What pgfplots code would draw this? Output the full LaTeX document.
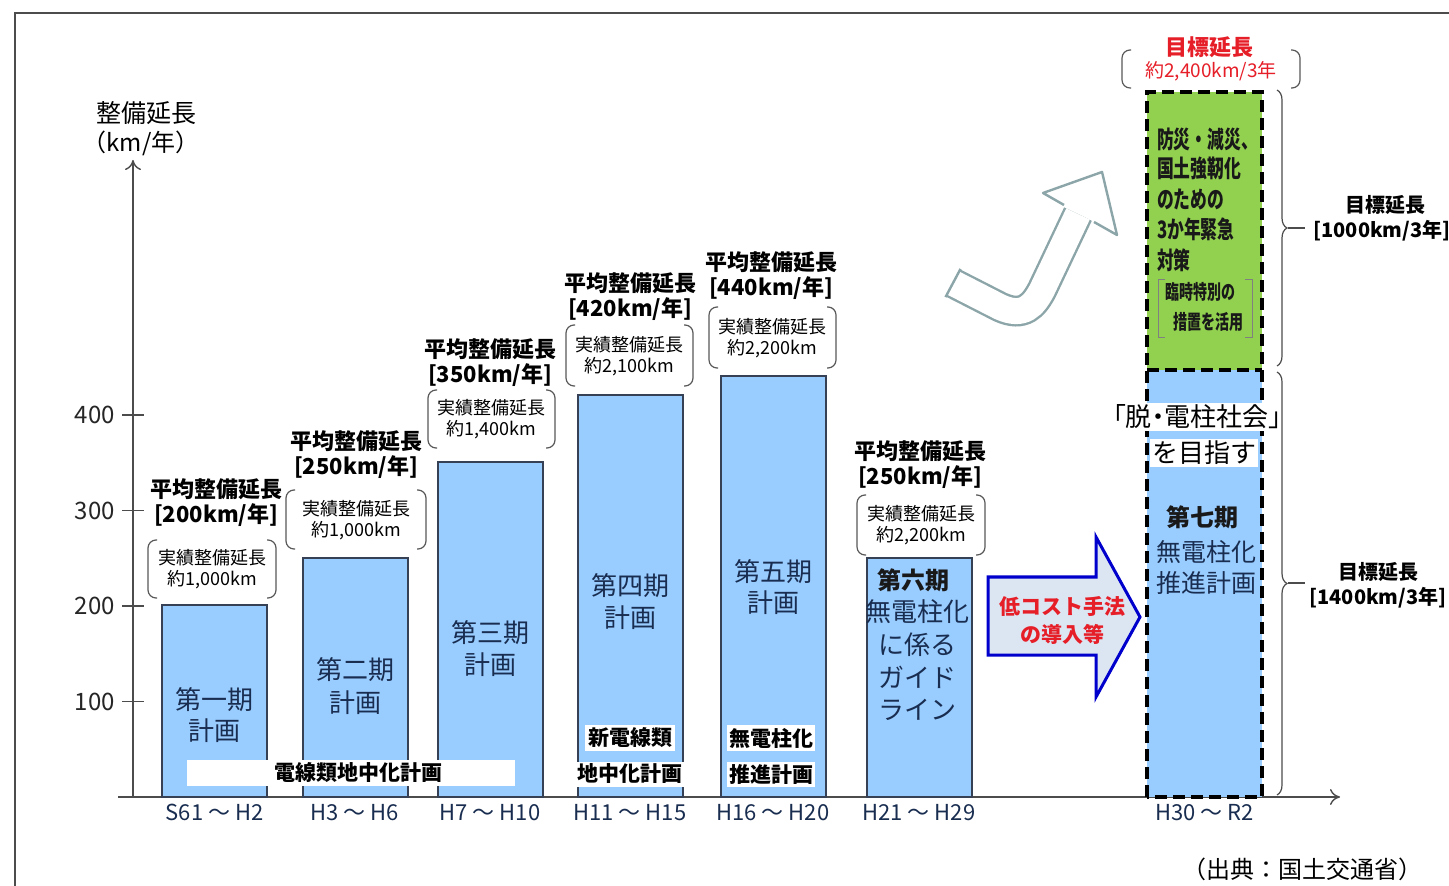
\documentclass[border=0pt]{standalone}
\usepackage{fontspec}
\setmainfont{Noto Sans CJK JP}
\newfontfamily\condfont{Noto Sans CJK JP}[FakeStretch=0.7]
\newfontfamily\paltfont{Noto Sans CJK JP}[RawFeature=+palt]
\usepackage{pgfplots}
\pgfplotsset{compat=1.18}
\usetikzlibrary{decorations.pathreplacing,arrows.meta}
\definecolor{barblue}{RGB}{153,204,255}
\definecolor{bardraw}{RGB}{55,65,85}
\definecolor{navy}{RGB}{25,45,80}
\definecolor{grn}{RGB}{146,208,80}
\definecolor{redt}{RGB}{230,30,40}
\definecolor{arrblue}{RGB}{0,0,205}
\definecolor{arrfill}{RGB}{220,230,242}
\definecolor{garrow}{RGB}{140,165,168}
\newcommand{\fs}[1]{\fontsize{#1}{#1}\selectfont}
\newcommand{\ann}[8]{%
  \node[font=\fs{11}\bfseries] at (#1,#2) {平均整備延長};
  \node[font=\fs{11}\bfseries] at (#1,#2+26) {[#3km/年]};
  \draw[black!65, line width=0.6pt, rounded corners=4pt] (#4+9,#6) -- (#4,#6) -- (#4,#7) -- (#4+9,#7);
  \draw[black!65, line width=0.6pt, rounded corners=4pt] (#5-9,#6) -- (#5,#6) -- (#5,#7) -- (#5-9,#7);
  \node[font=\fs{9}] at ({(#4+#5)/2},{(#6+#7)/2-11}) {実績整備延長};
  \node[font=\fs{9}] at ({(#4+#5)/2},{(#6+#7)/2+11}) {約#8km};
}
\begin{document}
\begin{tikzpicture}[x=0.5pt,y=-0.5pt]
\useasboundingbox (0,0) rectangle (1449,886);
\fill[white] (0,0) rectangle (1449,886);
\draw[black!70, line width=0.6pt] (15,886) -- (15,13) -- (1449,13);
\begin{axis}[
  at={(66.5pt,-398.5pt)}, anchor=south west,
  scale only axis, width=603.5pt, height=318.5pt,
  xmin=133, xmax=1340, ymin=0, ymax=667,
  axis lines=left,
  axis line style={line width=0.7pt, black!70, -{To[length=5pt,width=8pt]}},
  clip=false,
  ytick={100,200,300,400},
  xtick={214.5,355,490,630,773,919,1204.5},
  xticklabels={S61 ～ H2, H3 ～ H6, H7 ～ H10, H11 ～ H15, H16 ～ H20, H21 ～ H29, H30 ～ R2},
  tick align=center, major tick length=11pt,
  major x tick style={draw=none},
  major y tick style={black!70, line width=0.7pt},
  /pgf/number format/assume math mode=true,
  yticklabel style={font=\fs{12}, text=black!85},
  xticklabel style={font=\fs{11}, text=navy, yshift=5.5pt},
]
\addplot[ybar, bar width=105, bar shift=0pt, fill=barblue, draw=bardraw, line width=1pt]
  coordinates {(214.5,201) (355,250) (490,351) (630,421) (773,441) (919,250)};
\addplot[ybar, bar width=115, bar shift=0pt, fill=barblue, draw=none]
  coordinates {(1204.5,447)};
\addplot[fill=grn, draw=none] coordinates {(1147,447) (1262,447) (1262,738) (1147,738)} -- cycle;
\addplot[draw=black, line width=2pt, dash pattern=on 6pt off 3pt]
  coordinates {(1147,0) (1147,738) (1262,738) (1262,0) (1147,0)};
\addplot[draw=black, line width=2pt, dash pattern=on 6pt off 3pt]
  coordinates {(1147,447) (1262,447)};
\end{axis}
\draw[black!70, line width=0.7pt] (118,797) -- (133,797);
% axis label
\node[font=\fs{12.5}] at (146,113) {整備延長};
\node[font=\fs{12}] at (141,143) {（km/年）};
% bar texts
\begin{scope}[every node/.style={font=\fs{13}, text=navy}]
\node at (214,700) {第一期}; \node at (214,731) {計画};
\node at (355,670) {第二期}; \node at (355,703) {計画};
\node at (490,633) {第三期}; \node at (490,665) {計画};
\node at (630,586) {第四期}; \node at (630,618) {計画};
\node at (773,572) {第五期}; \node at (773,603) {計画};
\node at (917,612) {無電柱化}; \node at (917,645) {に係る};
\node at (917,677) {ガイド}; \node at (917,710) {ライン};
\node[font=\fs{12.5}] at (1206,552) {無電柱化}; \node[font=\fs{12.5}] at (1206,583) {推進計画};
\end{scope}
\node[font=\fs{12}\bfseries, text=black!90] at (913,580) {第六期};
\node[font=\fs{12}\bfseries, text=black!90] at (1202,517) {第七期};
% white labels
\fill[white] (187,760) rectangle (515,786);
\node[font=\fs{10.5}\bfseries] at (358,773) {電線類地中化計画};
\fill[white] (585,725) rectangle (675,751);
\node[font=\fs{10.5}\bfseries] at (630,738) {新電線類};
\fill[white] (576,762) rectangle (684,787);
\node[font=\fs{10.5}\bfseries] at (630,774) {地中化計画};
\fill[white] (727,725) rectangle (815,751);
\node[font=\fs{10.5}\bfseries] at (771,738) {無電柱化};
\fill[white] (727,762) rectangle (815,787);
\node[font=\fs{10.5}\bfseries] at (771,774) {推進計画};
% annotations
\ann{216}{489}{200}{148}{276}{540}{598}{1,000}
\ann{356}{441}{250}{286}{426}{490}{549}{1,000}
\ann{490}{349}{350}{428}{555}{390}{448}{1,400}
\ann{630}{283}{420}{566}{693}{325}{386}{2,100}
\ann{771}{262}{440}{709}{836}{307}{368}{2,200}
\ann{920}{451}{250}{857}{985}{495}{555}{2,200}
% top red
\node[font=\fs{11}\bfseries, text=redt] at (1209,47) {目標延長};
\node[font=\fs{9.5}, text=redt] at (1211,71) {約2,400km/3年};
\draw[black!65, line width=0.6pt, rounded corners=4pt] (1131,50) -- (1122,50) -- (1122,88) -- (1131,88);
\draw[black!65, line width=0.6pt, rounded corners=4pt] (1291,50) -- (1300,50) -- (1300,88) -- (1291,88);
% green text
\begin{scope}[every node/.style={anchor=west, font=\condfont\fs{12}\bfseries, text=black!90}]
\node at (1150,139) {防災・減災、};
\node at (1150,168) {国土強靭化};
\node at (1150,199) {のための};
\node at (1150,229) {3か年緊急};
\node at (1150,260) {対策};
\node[font=\condfont\fs{10}\bfseries] at (1158,292) {臨時特別の};
\node[font=\condfont\fs{10}\bfseries] at (1166,322) {措置を活用};
\end{scope}
\draw[black!50, line width=0.5pt] (1165,280) -- (1158,280) -- (1158,338) -- (1165,338);
\draw[black!50, line width=0.5pt] (1245,280) -- (1252,280) -- (1252,338) -- (1245,338);
% datsu
\node[fill=white, inner sep=1pt, font=\paltfont\fs{13}] at (1197,417) {「脱・電柱社会」};
\node[fill=white, inner sep=1pt, font=\fs{13}] at (1204,453) {を目指す};
% braces
\draw[decorate, decoration={brace, amplitude=5pt}, black!70, line width=0.6pt] (1277,90) -- (1277,366);
\draw[black!70, line width=0.6pt] (1288,228) -- (1305,228);
\draw[decorate, decoration={brace, amplitude=5pt}, black!70, line width=0.6pt] (1277,372) -- (1277,795);
\draw[black!70, line width=0.6pt] (1288,583) -- (1305,583);
\node[font=\fs{10}\bfseries] at (1385,205) {目標延長};
\node[font=\fs{10}\bfseries] at (1382,231) {[1000km/3年]};
\node[font=\fs{10}\bfseries] at (1378,572) {目標延長};
\node[font=\fs{10}\bfseries] at (1378,598) {[1400km/3年]};
% blue arrow
\draw[arrblue, line width=1.5pt, fill=arrfill] (988,577) -- (1096,577) -- (1096,537) -- (1140,617) -- (1096,697) -- (1096,655) -- (988,655) -- cycle;
\node[font=\fs{10.5}\bfseries, text=redt] at (1062,606) {低コスト手法};
\node[font=\fs{10.5}\bfseries, text=redt] at (1062,634) {の導入等};
% curved arrow
\draw[garrow, line width=1.2pt, double=white, double distance=13pt] (953,283) -- (1000,307) .. controls (1024,318) and (1034,305) .. (1042,290) -- (1078,214);
\draw[garrow, line width=1.2pt] (960.5,268.9) -- (945.5,297.1);
\fill[white] (1043,193) -- (1102,172) -- (1117,235) -- cycle;
\draw[garrow, line width=1.2pt, line join=round] (1064,205) -- (1043,193) -- (1102,172) -- (1117,235) -- (1094,222);
% source
\node[font=\fs{12}] at (1302,869) {（出典：国土交通省）};
\end{tikzpicture}
\end{document}
